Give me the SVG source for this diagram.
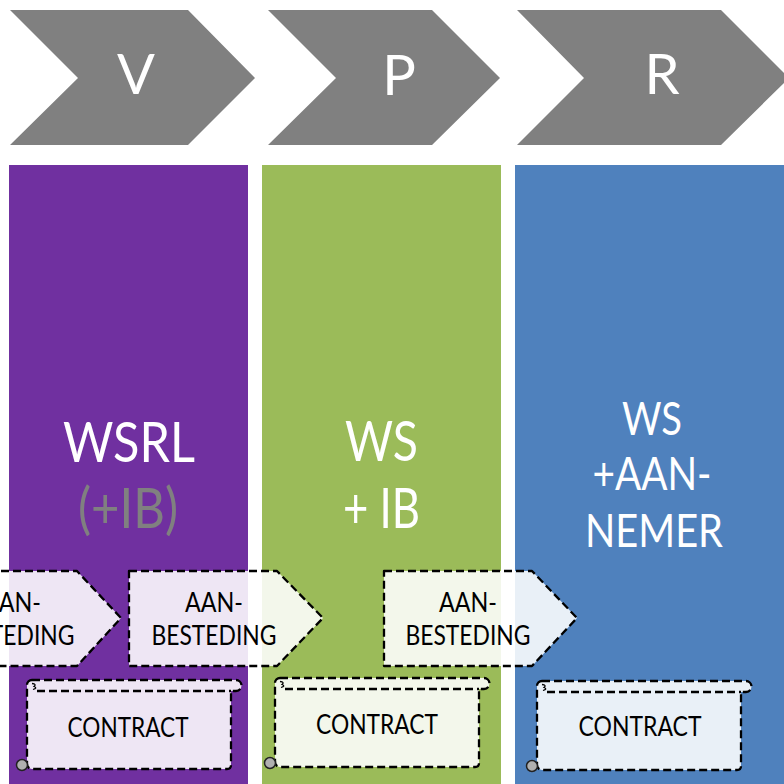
<svg xmlns="http://www.w3.org/2000/svg" width="784" height="784" viewBox="0 0 784 784">
<defs>
<style>
.chev{fill:#808080}
.big{font-family:Lato,"Open Sans","Liberation Sans",sans-serif;text-anchor:middle;fill:#fff}
.mid{font-family:Lato,"Open Sans","Liberation Sans",sans-serif;text-anchor:middle;fill:#000;font-size:26px}
.box{fill:#fff;fill-opacity:0.88;stroke:#000;stroke-width:2.3;stroke-dasharray:8 4;stroke-linejoin:round}
.dl{fill:none;stroke:#000;stroke-width:2.3;stroke-dasharray:8 4}
</style>
<g id="scroll">
<path class="box" d="M5 0H209A5.5 5.5 0 0 1 209 11H204V85Q204 89 200 89H5A5 5 0 0 1 0 84V5A5 5 0 0 1 5 0Z"/>
<path class="dl" d="M10 11H204"/>
<path d="M5 3.5Q10 4 7 6.5Q11 8 6 9.5" fill="none" stroke="#000" stroke-width="1.3"/>
<circle cx="-5" cy="85" r="5.5" fill="#b0b0b0" stroke="#222" stroke-width="1.5"/>
</g>
</defs>
<rect width="784" height="784" fill="#fff"/>

<g id="phase-v">
<polygon class="chev" points="10,10 188,10 255,78 188,145 10,145 78,78"/>
<text class="big" x="136" y="94" font-size="56">V</text>
</g>
<g id="phase-p">
<polygon class="chev" points="268,10 432,10 500,78 432,145 268,145 336,78"/>
<text class="big" x="399" y="95" font-size="56">P</text>
</g>
<g id="phase-r">
<polygon class="chev" points="517,10 721,10 789,78 721,145 517,145 584,78"/>
<text class="big" x="662" y="94" font-size="56">R</text>
</g>

<g id="col-wsrl">
<rect x="9" y="165" width="239" height="619" fill="#7030A0"/>
<text class="big" x="129" y="462" font-size="56" textLength="132" lengthAdjust="spacingAndGlyphs">WSRL</text>
<text class="big" x="128" y="528" font-size="56" style="fill:#808080" textLength="100" lengthAdjust="spacingAndGlyphs">(+IB)</text>
</g>
<g id="col-ws-ib">
<rect x="262" y="165" width="239" height="619" fill="#9BBB59"/>
<text class="big" x="381.5" y="461" font-size="56" textLength="73" lengthAdjust="spacingAndGlyphs">WS</text>
<text class="big" x="381.5" y="528" font-size="56" textLength="77" lengthAdjust="spacingAndGlyphs">+ IB</text>
</g>
<g id="col-ws-aannemer">
<rect x="515" y="165" width="269" height="619" fill="#4F81BD"/>
<text class="big" x="652" y="435" font-size="47" textLength="60" lengthAdjust="spacingAndGlyphs">WS</text>
<text class="big" x="652" y="490" font-size="47" textLength="119" lengthAdjust="spacingAndGlyphs">+AAN-</text>
<text class="big" x="654" y="547" font-size="47" textLength="138" lengthAdjust="spacingAndGlyphs">NEMER</text>
</g>

<g id="aanbesteding-1">
<polygon class="box" points="-71,571 77,571 121,618 77,666 -71,666"/>
<text class="mid" x="12" y="612" textLength="58" lengthAdjust="spacingAndGlyphs">AAN-</text>
<text class="mid" x="12" y="645" textLength="125" lengthAdjust="spacingAndGlyphs">BESTEDING</text>
</g>
<g id="aanbesteding-2">
<polygon class="box" points="129,571 277,571 323,618 277,666 129,666"/>
<text class="mid" x="214" y="612" textLength="58" lengthAdjust="spacingAndGlyphs">AAN-</text>
<text class="mid" x="214" y="645" textLength="125" lengthAdjust="spacingAndGlyphs">BESTEDING</text>
</g>
<g id="aanbesteding-3">
<polygon class="box" points="384,571 532,571 577,618 532,666 384,666"/>
<text class="mid" x="468" y="612" textLength="58" lengthAdjust="spacingAndGlyphs">AAN-</text>
<text class="mid" x="468" y="645" textLength="125" lengthAdjust="spacingAndGlyphs">BESTEDING</text>
</g>

<g id="contract-1">
<use href="#scroll" x="27" y="680"/>
<text class="mid" x="128" y="737" textLength="121" lengthAdjust="spacingAndGlyphs">CONTRACT</text>
</g>
<g id="contract-2">
<use href="#scroll" x="275" y="678"/>
<text class="mid" x="377" y="734" textLength="122" lengthAdjust="spacingAndGlyphs">CONTRACT</text>
</g>
<g id="contract-3">
<use href="#scroll" x="537" y="681"/>
<text class="mid" x="640" y="736" textLength="123" lengthAdjust="spacingAndGlyphs">CONTRACT</text>
</g>
</svg>
